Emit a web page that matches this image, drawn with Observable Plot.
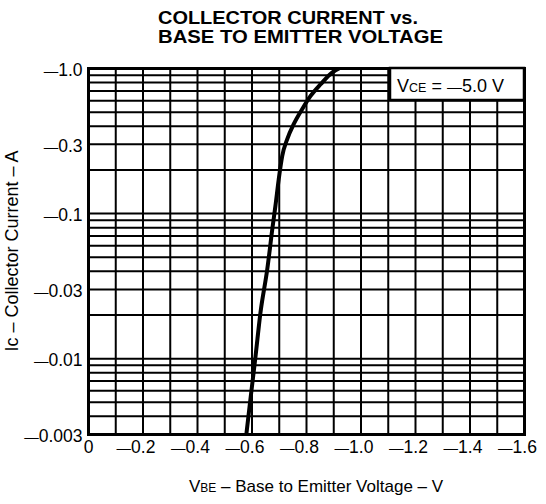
<!DOCTYPE html>
<html>
<head>
<meta charset="utf-8">
<script src="https://cdn.jsdelivr.net/npm/d3@7"></script>
<script src="https://cdn.jsdelivr.net/npm/@observablehq/plot@0.6"></script>
<style>
  html, body { margin: 0; padding: 0; background: #fff; }
  #chart svg { display: block; }
</style>
</head>
<body>
<div id="chart"></div>
<script>
// ---- data ----
const vbe = [-0.580, -0.594, -0.613, -0.631, -0.656, -0.676, -0.686, -0.698, -0.711, -0.729, -0.753, -0.784, -0.815, -0.852, -0.894, -0.919];
const ic  = [-0.0031, -0.0052, -0.0104, -0.0207, -0.0413, -0.082, -0.113, -0.172, -0.25, -0.325, -0.413, -0.524, -0.647, -0.78, -0.938, -1.0];

const xTicks = [0, -0.2, -0.4, -0.6, -0.8, -1.0, -1.2, -1.4, -1.6];
const xTickLabels = ["0", "—0.2", "—0.4", "—0.6", "—0.8", "—1.0", "—1.2", "—1.4", "—1.6"];
const yTicks = [-1.0, -0.3, -0.1, -0.03, -0.01, -0.003];
const yTickLabels = ["—1.0", "—0.3", "—0.1", "—0.03", "—0.01", "—0.003"];

const xGrid = [-0.1, -0.2, -0.3, -0.4, -0.5, -0.6, -0.7, -0.8, -0.9, -1.0, -1.1, -1.2, -1.3, -1.4, -1.5];
const yGrid = [-0.004, -0.005, -0.006, -0.007, -0.008, -0.009,
               -0.01, -0.02, -0.03, -0.04, -0.05, -0.06, -0.07, -0.08, -0.09,
               -0.1, -0.2, -0.3, -0.4, -0.5, -0.6, -0.7, -0.8, -0.9];

const titleLines = ["COLLECTOR CURRENT vs.", "BASE TO EMITTER VOLTAGE"];
const xLabelParts = ["V", "BE", " – Base to Emitter Voltage – V"];
const yLabel = "Ic – Collector Current – A";
const legendParts = ["V", "CE", " = ", "—", "5.0 V"];

// ---- build ----
const curve = vbe.map((v, i) => ({v, i: ic[i]}));
const xFmt = new Map(xTicks.map((t, i) => [t, xTickLabels[i]]));
const yFmt = new Map(yTicks.map((t, i) => [t, yTickLabels[i]]));
const FONT = "'Liberation Sans', Arial, Helvetica, sans-serif";

const plot = Plot.plot({
  width: 546,
  height: 504,
  marginTop: 68,
  marginBottom: 70,
  marginLeft: 88,
  marginRight: 22,
  style: {fontFamily: FONT, fontSize: "17.5px", color: "#000", background: "#fff"},
  x: {domain: [0, -1.6]},
  y: {type: "log", domain: [-0.003, -1]},
  marks: [
    Plot.ruleX(xGrid, {stroke: "#000", strokeWidth: 2}),
    Plot.ruleY(yGrid, {stroke: "#000", strokeWidth: 2}),
    Plot.line(curve, {x: "v", y: "i", stroke: "#000", strokeWidth: 4, curve: "monotone-x", clip: true}),
    Plot.frame({stroke: "#000", strokeWidth: 3}),
    Plot.axisX(xTicks.slice(0, 1), {tickSize: 0, tickPadding: 6, fontSize: 17.5, tickFormat: d => xFmt.get(d), label: null}),
    Plot.axisX(xTicks.slice(1), {tickSize: 0, tickPadding: 6, fontSize: 17.5, dx: -7, tickFormat: d => xFmt.get(d), label: null}),
    Plot.axisY(yTicks, {tickSize: 0, tickPadding: 6, fontSize: 17.5, dy: 2, tickFormat: d => yFmt.get(d), label: null})
  ]
});

document.getElementById("chart").appendChild(plot);

// shorten the leading dash of the tick labels (split into a smaller dash + number)
d3.select(plot).selectAll("g[aria-label$='tick label'] text").each(function () {
  const t = this.textContent;
  if (t.startsWith("—")) {
    const el = d3.select(this);
    el.text(null);
    el.append("tspan").attr("font-size", 14.5).text("—");
    el.append("tspan").text(t.slice(1));
  }
});

// ---- text annotations positioned from the scales ----
const sx = plot.scale("x"), sy = plot.scale("y");
const pLeft = Math.min(...sx.range), pRight = Math.max(...sx.range);
const pTop = Math.min(...sy.range), pBottom = Math.max(...sy.range);
const svg = d3.select(plot);

// title
const tg = svg.append("g").attr("font-family", FONT).attr("font-weight", "bold")
  .attr("fill", "#000").attr("text-anchor", "start");
const titleLens = [260, 285];
titleLines.forEach((t, k) => {
  tg.append("text")
    .attr("x", pLeft + 70)
    .attr("y", pTop - 44 + k * 19)
    .attr("font-size", 17.5)
    .attr("textLength", titleLens[k])
    .attr("lengthAdjust", "spacingAndGlyphs")
    .text(t);
});

// legend box
const lg = svg.append("g").attr("text-anchor", "start");
lg.append("rect")
  .attr("x", pRight - 134).attr("y", pTop)
  .attr("width", 134).attr("height", 32)
  .attr("fill", "#fff").attr("stroke", "#000").attr("stroke-width", 2.5);
const lt = lg.append("text")
  .attr("x", pRight - 127).attr("y", pTop + 24)
  .attr("font-family", FONT).attr("font-size", 18).attr("fill", "#000");
lt.append("tspan").text(legendParts[0]);
lt.append("tspan").attr("font-size", 12.5).text(legendParts[1]);
lt.append("tspan").text(legendParts[2]);
lt.append("tspan").attr("font-size", 15).text(legendParts[3]);
lt.append("tspan").text(legendParts[4]);

// x axis title
const xt = svg.append("text")
  .attr("x", (pLeft + pRight) / 2 + 10).attr("y", pBottom + 58)
  .attr("text-anchor", "middle")
  .attr("font-family", FONT).attr("font-size", 17).attr("fill", "#000");
xt.append("tspan").text(xLabelParts[0]);
xt.append("tspan").attr("font-size", 12).text(xLabelParts[1]);
xt.append("tspan").text(xLabelParts[2]);

// y axis title
svg.append("text")
  .attr("transform", `translate(${pLeft - 70},${(pTop + pBottom) / 2}) rotate(-90)`)
  .attr("text-anchor", "middle")
  .attr("font-family", FONT).attr("font-size", 18).attr("fill", "#000")
  .text(yLabel);
</script>
</body>
</html>
